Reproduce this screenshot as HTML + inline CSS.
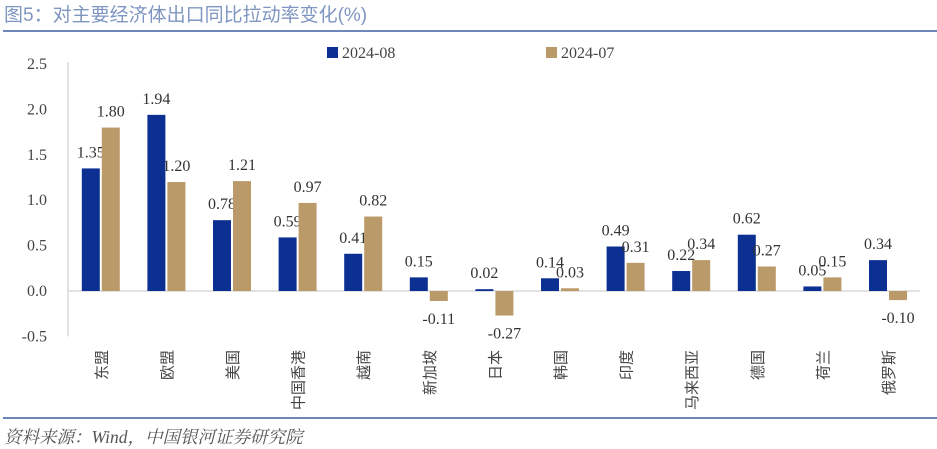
<!DOCTYPE html>
<html><head><meta charset="utf-8"><style>
body{margin:0;background:#fff;width:937px;height:449px;overflow:hidden}
svg{display:block}
</style></head><body>
<svg id="chart" width="937" height="449" xmlns="http://www.w3.org/2000/svg">
<text x="4" y="21" font-family="Liberation Sans, Noto Sans CJK SC, sans-serif" font-size="19" fill="#7f96c2">图5：对主要经济体出口同比拉动率变化(%)</text>
<line x1="3" y1="31" x2="937" y2="31" stroke="#6f87b8" stroke-width="2"/>
<line x1="3" y1="418" x2="937" y2="418" stroke="#6f87b8" stroke-width="2"/>
<text x="4" y="443" font-family="Liberation Serif, Noto Serif CJK SC, serif" font-style="italic" font-size="17.5" fill="#555">资料来源：Wind，中国银河证券研究院</text>
<g>
<rect x="327" y="47" width="11" height="11" fill="#0b3091"/>
<text x="342" y="58" font-family="Liberation Serif, serif" font-size="16" fill="#444">2024-08</text>
<rect x="546" y="47" width="11" height="11" fill="#ba9a68"/>
<text x="561" y="58" font-family="Liberation Serif, serif" font-size="16" fill="#444">2024-07</text>
</g>
<g id="plot"></g>
</svg>
<script>
const categories=["东盟","欧盟","美国","中国香港","越南","新加坡","日本","韩国","印度","马来西亚","德国","荷兰","俄罗斯"];
const series08=[1.35,1.94,0.78,0.59,0.41,0.15,0.02,0.14,0.49,0.22,0.62,0.05,0.34];
const series07=[1.80,1.20,1.21,0.97,0.82,-0.11,-0.27,0.03,0.31,0.34,0.27,0.15,-0.10];
const yTicks=[2.5,2.0,1.5,1.0,0.5,0.0,-0.5];
const NS="http://www.w3.org/2000/svg";
const g=document.getElementById('plot');
const x0=68,band=65.6,zeroY=291,ppu=90.8;
const y=v=>zeroY-v*ppu;
function mk(t,a){const e=document.createElementNS(NS,t);for(const k in a)e.setAttribute(k,a[k]);g.appendChild(e);return e;}
let e=mk('line',{x1:x0,y1:y(0),x2:920,y2:y(0),stroke:'#d9d9d9','stroke-width':1.5});


e=mk('line',{x1:x0,y1:y(2.5)-2,x2:x0,y2:y(-0.5),stroke:'#d9d9d9','stroke-width':1.5});


yTicks.forEach(v=>{
 const t=mk('text',{x:47,y:y(v)+5,'text-anchor':'end','font-family':'Liberation Serif, serif','font-size':16,fill:'#444'});
 t.textContent=v.toFixed(1);
 
 
});
function bar(v,cx,fill,name){
 const top=Math.min(y(v),y(0)),h=Math.abs(y(v)-y(0));
 const r=mk('rect',{x:cx,y:top,width:18,height:Math.max(h,1),fill:fill});
 
 
 const t=mk('text',{x:cx+9,y:v>=0?y(v)-11:y(v)+23,'text-anchor':'middle','font-family':'Liberation Serif, serif','font-size':16,fill:'#333'});
 t.textContent=v.toFixed(2);
 
 
}
categories.forEach((c,i)=>{
 const cx=x0+band*i+band/2;
 bar(series08[i],cx-19,'#0b3091','bar-2024-08-'+i);
 bar(series07[i],cx+1,'#ba9a68','bar-2024-07-'+i);
 const t=mk('text',{transform:`translate(${cx+6},350) rotate(-90)`,'text-anchor':'end','font-family':'Liberation Sans, Noto Sans CJK SC, sans-serif','font-size':15,fill:'#444'});
 t.textContent=c;
 
 
});
</script>
</body></html>
